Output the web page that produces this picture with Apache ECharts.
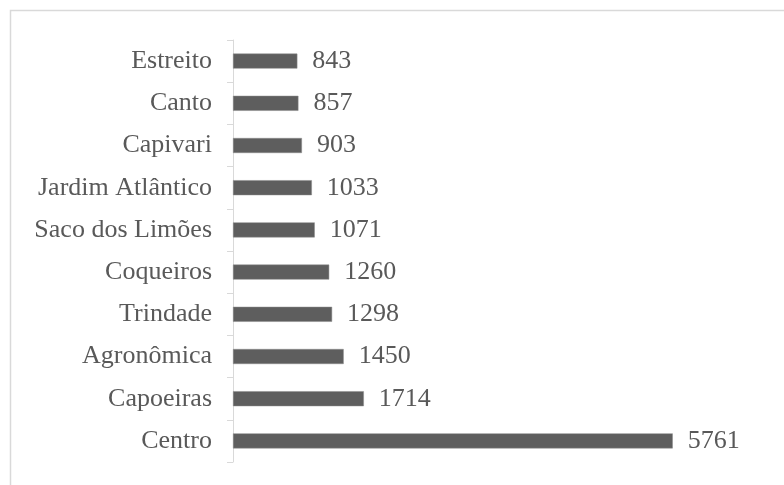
<!DOCTYPE html>
<html>
<head>
<meta charset="utf-8">
<script src="https://cdn.jsdelivr.net/npm/echarts@6/dist/echarts.min.js"></script>
<style>
  html, body { margin: 0; padding: 0; background: #ffffff; }
  #chart { width: 784px; height: 485px; }
</style>
</head>
<body>
<div id="chart"></div>
<script>
// Neighbourhoods, listed top to bottom
const bairros = ['Estreito', 'Canto', 'Capivari', 'Jardim Atlântico', 'Saco dos Limões',
                 'Coqueiros', 'Trindade', 'Agronômica', 'Capoeiras', 'Centro'];
const valores = [843, 857, 903, 1033, 1071, 1260, 1298, 1450, 1714, 5761];

const textColor = '#595959';
const fontFamily = '"Liberation Serif", "Times New Roman", serif';

const chart = echarts.init(document.getElementById('chart'));
chart.setOption({
  animation: false,
  backgroundColor: '#ffffff',
  graphic: [{
    type: 'rect',
    shape: { x: 10.5, y: 10.5, width: 800, height: 500 },
    style: { fill: 'none', stroke: '#d9d9d9', lineWidth: 1.5 },
    silent: true
  }],
  grid: { left: 233, top: 40, width: 458, height: 422, containLabel: false },
  xAxis: {
    type: 'value',
    min: 0,
    max: 6000,
    show: false
  },
  yAxis: {
    type: 'category',
    data: bairros,
    inverse: true,
    axisLine: { show: true, lineStyle: { color: '#d9d9d9', width: 1 } },
    axisTick: { show: true, length: 6, lineStyle: { color: '#d9d9d9' } },
    axisLabel: { color: textColor, fontFamily: fontFamily, fontSize: 26, margin: 21 },
    splitLine: { show: false }
  },
  series: [{
    type: 'bar',
    data: valores,
    barWidth: 15,
    itemStyle: { color: '#5e5e5e', borderColor: '#8a8a8a', borderWidth: 0.5 },
    label: {
      show: true,
      position: 'right',
      distance: 15,
      color: textColor,
      fontFamily: fontFamily,
      fontSize: 26
    }
  }]
});
</script>
</body>
</html>
